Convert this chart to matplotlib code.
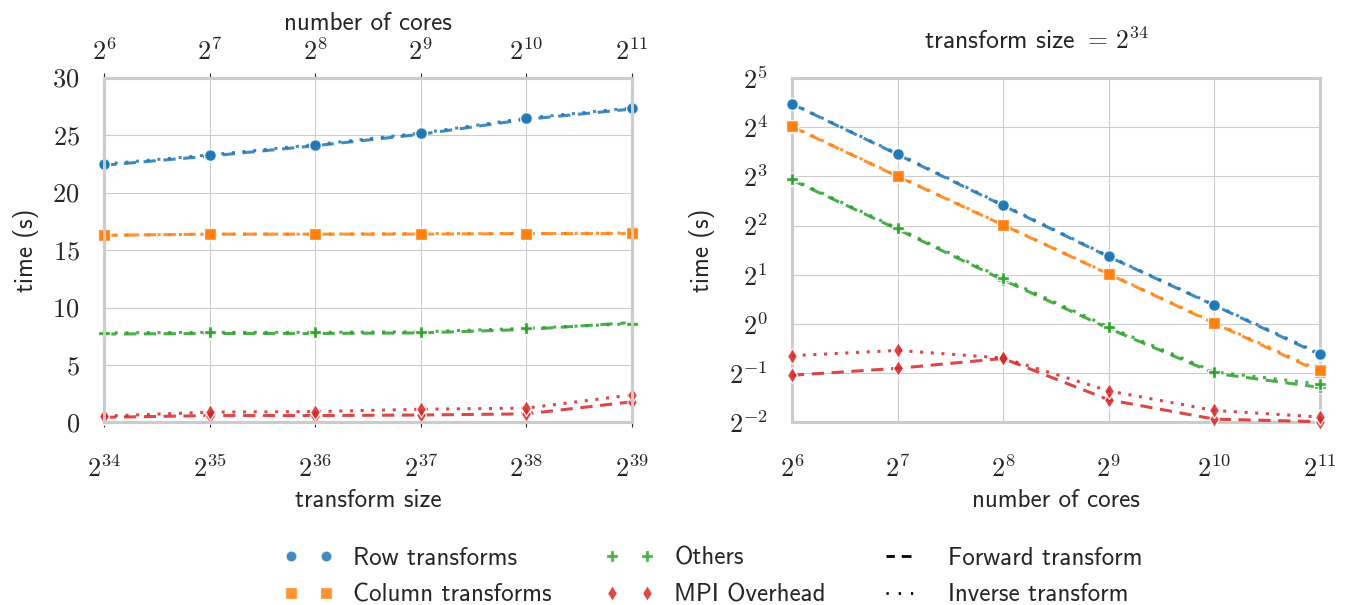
import numpy as np
import matplotlib
matplotlib.use("Agg")
import matplotlib.pyplot as plt
import seaborn as sns
from matplotlib.lines import Line2D

# dados: escala fraca (esquerda) e forte (direita), tempos em segundos
transform_exp = [34, 35, 36, 37, 38, 39]
cores_exp = [6, 7, 8, 9, 10, 11]
series = ["Row transforms", "Column transforms", "Others", "MPI Overhead"]

weak_fwd = {
    "Row transforms": [22.4, 23.2, 24.1, 25.1, 26.4, 27.3],
    "Column transforms": [16.3, 16.4, 16.4, 16.4, 16.45, 16.45],
    "Others": [7.7, 7.75, 7.75, 7.8, 8.1, 8.7],
    "MPI Overhead": [0.45, 0.6, 0.6, 0.65, 0.75, 1.8],
}
weak_inv = {
    "Row transforms": [22.5, 23.3, 24.2, 25.2, 26.5, 27.4],
    "Column transforms": [16.3, 16.4, 16.4, 16.45, 16.45, 16.5],
    "Others": [7.8, 7.85, 7.85, 7.9, 8.2, 8.6],
    "MPI Overhead": [0.55, 0.9, 0.95, 1.15, 1.25, 2.4],
}
strong_fwd = {
    "Row transforms": [22.2, 10.9, 5.3, 2.58, 1.30, 0.65],
    "Column transforms": [16.1, 8.0, 4.03, 2.02, 1.01, 0.51],
    "Others": [7.6, 3.8, 1.86, 0.94, 0.50, 0.41],
    "MPI Overhead": [0.486, 0.536, 0.616, 0.344, 0.262, 0.253],
}
strong_inv = {
    "Row transforms": [22.3, 11.0, 5.35, 2.6, 1.31, 0.66],
    "Column transforms": [16.2, 8.05, 4.05, 2.03, 1.02, 0.52],
    "Others": [7.7, 3.85, 1.9, 0.96, 0.51, 0.43],
    "MPI Overhead": [0.64, 0.69, 0.62, 0.39, 0.296, 0.27],
}

cores_labels = [r"$2^{%d}$" % e for e in cores_exp]
size_labels = [r"$2^{%d}$" % e for e in transform_exp]

sns.set_style("whitegrid", {"axes.edgecolor": "#cccccc", "grid.color": "#cccccc"})
plt.rcParams["font.family"] = ["cmss10", "DejaVu Sans"]
plt.rcParams["mathtext.fontset"] = "cm"
plt.rcParams["axes.unicode_minus"] = False

cores = {"Row transforms": "#1f77b4", "Column transforms": "#ff7f0e",
         "Others": "#2ca02c", "MPI Overhead": "#d62728"}
marcadores = {"Row transforms": "o", "Column transforms": "s",
              "Others": "P", "MPI Overhead": "d"}


def desenha(ax, x, fwd, inv):
    for s in series:
        for dados, ls in ((fwd, (0, (4, 2.5))), (inv, (0, (1, 2.5)))):
            ax.plot(x, dados[s], color=cores[s], linestyle=ls, linewidth=2.2,
                    alpha=0.85, marker=marcadores[s], markersize=8.5,
                    markeredgecolor="white", markeredgewidth=1.0, clip_on=False, zorder=3)


fig = plt.figure(figsize=(13.48, 6.05), dpi=100)
ax1 = fig.add_axes([0.0772, 0.3017, 0.3917, 0.5694])
ax2 = fig.add_axes([0.5875, 0.3017, 0.3917, 0.5694])

# painel esquerdo: escala fraca
x1 = [2.0 ** e for e in transform_exp]
desenha(ax1, x1, weak_fwd, weak_inv)
ax1.set_xscale("log", base=2)
ax1.set_xlim(x1[0], x1[-1])
ax1.set_xticks(x1)
ax1.set_xticklabels(size_labels)
ax1.minorticks_off()
ax1.set_ylim(0, 30)
ax1.set_yticks(range(0, 31, 5))
ax1.set_yticklabels([r"$%d$" % v for v in range(0, 31, 5)])
ax1.set_xlabel("transform size", fontsize=18, labelpad=5)
ax1.set_ylabel("time (s)", fontsize=18, labelpad=10)

top = ax1.twiny()
top.set_xscale("log", base=2)
top.set_xlim(2.0 ** cores_exp[0], 2.0 ** cores_exp[-1])
top.set_xticks([2.0 ** e for e in cores_exp])
top.set_xticklabels(cores_labels)
top.minorticks_off()
top.grid(False)
top.set_xlabel("number of cores", fontsize=18, labelpad=6)

# painel direito: escala forte
x2 = [2.0 ** e for e in cores_exp]
desenha(ax2, x2, strong_fwd, strong_inv)
ax2.set_xscale("log", base=2)
ax2.set_yscale("log", base=2)
ax2.set_xlim(x2[0], x2[-1])
ax2.set_ylim(2.0 ** -2, 2.0 ** 5)
ax2.set_xticks(x2)
ax2.set_xticklabels(cores_labels)
yexp = list(range(-2, 6))
ax2.set_yticks([2.0 ** e for e in yexp])
ax2.set_yticklabels([r"$2^{%d}$" % e for e in yexp])
ax2.minorticks_off()
ax2.set_xlabel("number of cores", fontsize=18, labelpad=5)
ax2.set_ylabel("time (s)", fontsize=18, labelpad=10)
ax2.set_title(r"transform size $=\,2^{34}$", fontsize=18.5, pad=21, x=0.463)

for ax in (ax1, ax2):
    ax.tick_params(axis="x", labelsize=19, pad=20)
    ax.tick_params(axis="y", labelsize=19, pad=14)
top.tick_params(axis="x", labelsize=19, pad=6)
for ax in (ax1, ax2, top):
    for sp in ax.spines.values():
        sp.set_color("#cccccc")
        sp.set_linewidth(2.2)

handles = []
for s in series:
    handles.append(Line2D([], [], color=cores[s], alpha=0.85, linestyle="none",
                          marker=marcadores[s], markersize=8, markeredgecolor="white",
                          label=s))
handles.append(Line2D([], [], color="black", linestyle=(0, (3, 2.5, 3.5, 40)), linewidth=2,
                      label="Forward transform"))
handles.append(Line2D([], [], color="black", linestyle=(0, (0.8, 3.6, 0.8, 3.6, 0.8, 40)),
                      linewidth=2, label="Inverse transform"))
fig.legend(handles=handles, loc="center", bbox_to_anchor=(0.529, 0.047), ncol=3,
           frameon=False, fontsize=18, numpoints=2, handlelength=2.0,
           columnspacing=2.1, handletextpad=0.8, labelspacing=0.55)

fig.savefig("out.png", dpi=100)
